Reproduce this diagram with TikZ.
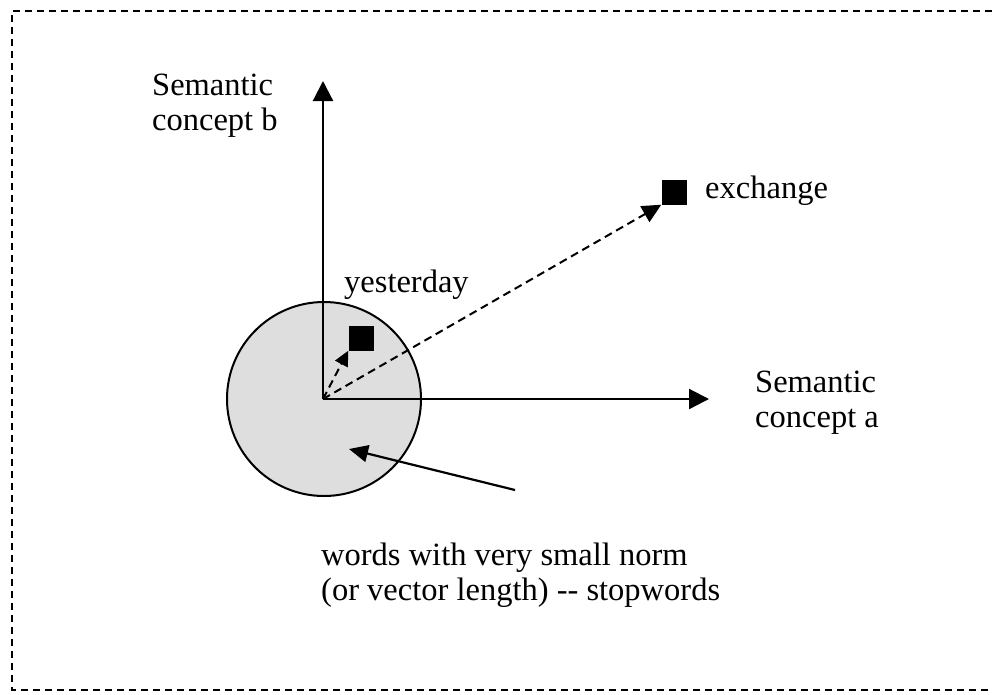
\documentclass[tikz,border=0pt]{standalone}
\usepackage{fontspec}
\setmainfont{Liberation Serif}
\usetikzlibrary{arrows.meta}
\begin{document}
\begin{tikzpicture}[x=1pt,y=-1pt,
  lbl/.style={anchor=base west,align=left,inner sep=0pt,
    font=\fontsize{32.5}{34.5}\selectfont},
  axis/.style={line width=2.2pt,-{Triangle[length=20pt,width=20pt]}},
  vec/.style={line width=2pt,dash pattern=on 8pt off 5pt,
    -{Triangle[length=19pt,width=18pt]}},
  word/.style={fill=black,draw=none,minimum size=25pt,inner sep=0pt}]
\useasboundingbox (0,0) rectangle (992,694);
% dashed frame (open on the right)
\draw[line width=2.4pt,dash pattern=on 7pt off 5pt]
  (992,11) -- (12,11) -- (12,690) -- (992,690);
% region of small-norm words
\node[circle,draw,line width=2pt,fill=black!13,minimum size=194pt,inner sep=0pt] (small) at (324,399) {};
\coordinate (O) at (323,399);
\coordinate (btip) at (323,81);
\coordinate (atip) at (709,399);
% axes
\draw[axis] (O) -- (btip);
\draw[axis] (O) -- (atip);
% word vectors
\node[word] (yst) at (361,338) {};
\node[word] (exc) at (674,192) {};
\draw[vec,-{Triangle[length=15pt,width=14pt]}] (O) -- (yst.south west);
\draw[vec] (O) -- (exc.south west);
% labels (anchored at the baseline of the last line)
\node[lbl] (lb) at (152,130) {Semantic\\concept b};
\node[lbl] (la) at (755,427) {Semantic\\concept a};
\node[lbl] (ly) at (344,292) {yesterday};
\node[lbl] (le) at (705,198) {exchange};
\node[lbl] (ls) at (321,600) {words with very small norm\\(or vector length) -{}- stopwords};
% pointer to the small-norm region
\coordinate (ptail) at (515,490);
\coordinate (phead) at (349,449);
\draw[line width=2.2pt,-{Triangle[length=19pt,width=17pt]}] (ptail) -- (phead);
\end{tikzpicture}
\end{document}
